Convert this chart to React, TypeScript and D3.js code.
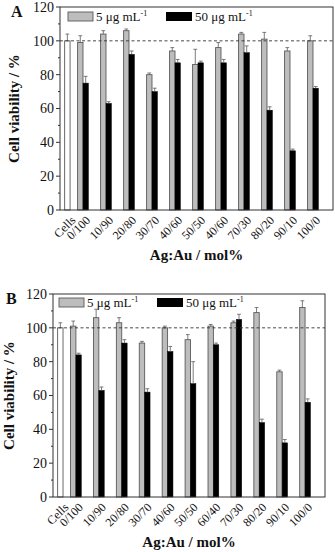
import React from "react";
import * as d3 from "d3";

const categoriesA = ["Cells", "0/100", "10/90", "20/80", "30/70", "40/60", "50/50", "40/60", "70/30", "80/20", "90/10", "100/0"];
const categoriesB = ["Cells", "0/100", "10/90", "20/80", "30/70", "40/60", "50/50", "60/40", "70/30", "80/20", "90/10", "100/0"];

// index 0 (Cells) has a single control bar; others: 5 µg (gray) and 50 µg (black)
const low5A = [100, 99, 104, 106, 80, 94, 86, 96, 104, 101, 94, 100];
const low5ErrA = [4, 4, 2, 1, 1, 2, 9, 3, 1, 4, 2, 3];
const high50A = [null, 75, 63, 92, 70, 87, 87, 87, 93, 59, 35, 72];
const high50ErrA = [null, 4, 1, 2, 2, 2, 1, 2, 4, 2, 1, 1];

const low5B = [100, 101, 106, 103, 91, 100, 93, 101, 103, 109, 74, 112];
const low5ErrB = [3, 3, 5, 3, 1, 1, 3, 1, 1, 3, 1, 4];
const high50B = [null, 84, 63, 91, 62, 86, 67, 90, 105, 44, 32, 56];
const high50ErrB = [null, 1, 2, 2, 2, 3, 13, 1, 3, 2, 2, 2];

const yTicks = [0, 20, 40, 60, 80, 100, 120];
const yMinor = [10, 30, 50, 70, 90, 110];
const legendLabels = ["5 μg mL", "50 μg mL"];

const FONT = "'Liberation Serif', 'DejaVu Serif', serif";
const GRAY = "#bdbdbd";
const EDGE = "#5a5a5a";

type PanelProps = {
  label: string;
  cats: string[];
  low: number[];
  lowErr: number[];
  high: (number | null)[];
  highErr: (number | null)[];
  left: number;
  right: number;
  top: number;
  bottom: number;
  yLabelX: number;
  titleY: number;
  letterX: number;
  legendY: number;
  legendX1: number;
  legendX2: number;
};

function Panel(p: PanelProps) {
  const x = d3.scaleLinear().domain([0, 11.87]).range([p.left, p.right]);
  const y = d3.scaleLinear().domain([0, 120]).range([p.bottom, p.top]);
  const step = x(1) - x(0);
  const bw = step * 0.235;
  const pos = (i: number) => (i === 0 ? 1 - 0.68 : i);
  const cap = bw * 0.35;

  const errBar = (cx: number, v: number, e: number, key: string) => (
    <g key={key} stroke={EDGE} strokeWidth={0.8}>
      <line x1={cx} x2={cx} y1={y(v)} y2={y(v + e)} />
      <line x1={cx - cap} x2={cx + cap} y1={y(v + e)} y2={y(v + e)} />
    </g>
  );

  return (
    <g>
      {/* bars */}
      {p.cats.map((c, i) => {
        const cx = x(pos(i));
        if (i === 0) {
          return (
            <g key={"b" + i}>
              <rect x={cx - bw / 2} y={y(p.low[i])} width={bw} height={y(0) - y(p.low[i])} fill="#fff" stroke={EDGE} strokeWidth={0.9} />
              {errBar(cx, p.low[i], p.lowErr[i], "e0")}
            </g>
          );
        }
        const h = p.high[i] as number;
        const he = p.highErr[i] as number;
        return (
          <g key={"b" + i}>
            <rect x={cx - bw} y={y(p.low[i])} width={bw} height={y(0) - y(p.low[i])} fill={GRAY} stroke={EDGE} strokeWidth={0.9} />
            <rect x={cx} y={y(h)} width={bw} height={y(0) - y(h)} fill="#000" stroke="#000" strokeWidth={0.5} />
            {errBar(cx - bw / 2, p.low[i], p.lowErr[i], "el")}
            {errBar(cx + bw / 2, h, he, "eh")}
          </g>
        );
      })}
      {/* reference line */}
      <line x1={p.left} x2={p.right} y1={y(100)} y2={y(100)} stroke="#333" strokeWidth={0.9} strokeDasharray="3,2.5" />
      {/* frame */}
      <rect x={p.left} y={p.top} width={p.right - p.left} height={p.bottom - p.top} fill="none" stroke="#333" strokeWidth={1} />
      {/* y ticks */}
      {yTicks.map((t) => (
        <g key={"t" + t}>
          <line x1={p.left - 4} x2={p.left} y1={y(t)} y2={y(t)} stroke="#333" />
          <text x={p.left - 6} y={y(t)} dy="0.35em" textAnchor="end" fontSize={14} fontFamily={FONT} fill="#111">{t}</text>
        </g>
      ))}
      {yMinor.map((t) => (
        <line key={"m" + t} x1={p.left - 2} x2={p.left} y1={y(t)} y2={y(t)} stroke="#333" />
      ))}
      {/* x labels */}
      {p.cats.map((c, i) => {
        const cx = x(pos(i)) + (i === 0 ? 3 : 2);
        const ty = p.bottom + 5;
        return (
          <text key={"x" + i} transform={`translate(${cx},${ty}) rotate(-45)`} textAnchor="end" dy="0.7em" fontSize={12} fontFamily={FONT} fill="#111">{c}</text>
        );
      })}
      {/* axis titles */}
      <text transform={`translate(${p.yLabelX},${(p.top + p.bottom) / 2}) rotate(-90)`} textAnchor="middle" fontSize={15} fontWeight="bold" fontFamily={FONT} fill="#111">Cell viability / %</text>
      <text x={(p.left + p.right) / 2} y={p.titleY} textAnchor="middle" fontSize={15} fontWeight="bold" fontFamily={FONT} fill="#111">Ag:Au / mol%</text>
      <text x={p.letterX} y={p.top + 4} dy="0.35em" fontSize={16} fontWeight="bold" fontFamily={FONT} fill="#111">{p.label}</text>
      {/* legend */}
      <rect x={p.legendX1} y={p.legendY} width={25} height={9} fill={GRAY} stroke={EDGE} strokeWidth={0.9} />
      <text x={p.legendX1 + 28} y={p.legendY + 9} fontSize={13} fontFamily={FONT} fill="#111">{legendLabels[0]}<tspan dy={-5} fontSize={8}>-1</tspan></text>
      <rect x={p.legendX2} y={p.legendY} width={26} height={9} fill="#000" />
      <text x={p.legendX2 + 29} y={p.legendY + 9} fontSize={13} fontFamily={FONT} fill="#111">{legendLabels[1]}<tspan dy={-5} fontSize={8}>-1</tspan></text>
    </g>
  );
}

export default function App() {
  return (
    <svg width={335} height={552} style={{ position: "absolute", left: 0, top: 0, background: "#fff" }}>
      <Panel label="A" cats={categoriesA} low={low5A} lowErr={low5ErrA} high={high50A} highErr={high50ErrA}
        left={60} right={333} top={7} bottom={210} yLabelX={19} titleY={260} letterX={11}
        legendY={12} legendX1={68} legendX2={166} />
      <Panel label="B" cats={categoriesB} low={low5B} lowErr={low5ErrB} high={high50B} highErr={high50ErrB}
        left={53} right={325} top={294} bottom={497} yLabelX={14} titleY={547} letterX={6}
        legendY={298} legendX1={59} legendX2={157} />
    </svg>
  );
}
